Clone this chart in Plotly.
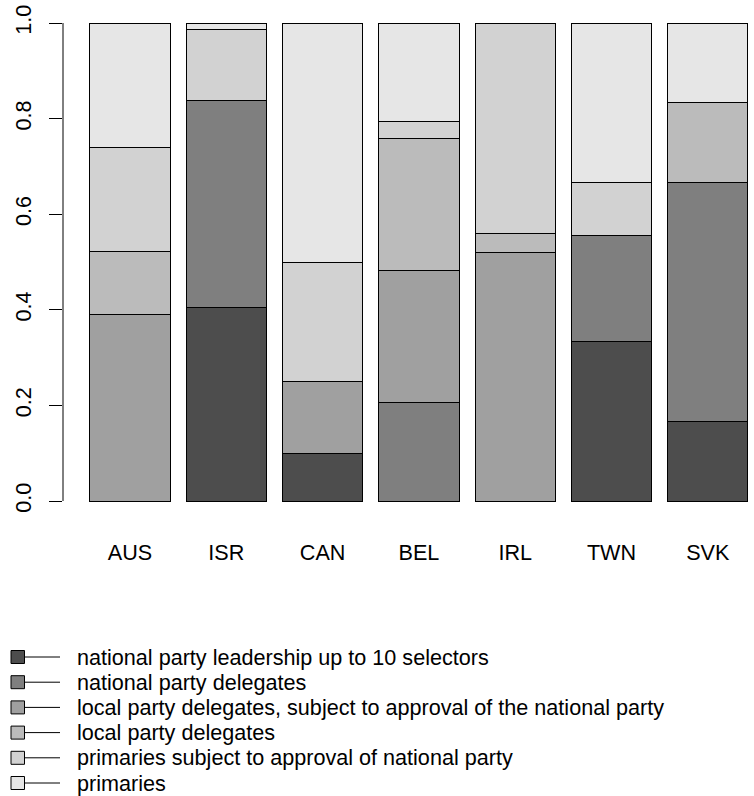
import plotly.graph_objects as go

countries = ["AUS", "ISR", "CAN", "BEL", "IRL", "TWN", "SVK"]
leadership = [None, 0.405, 0.10, None, None, 0.333, 0.167]
nat_delegates = [None, 0.432, None, 0.207, None, 0.222, 0.500]
local_approval = [0.391, None, 0.15, 0.276, 0.52, None, None]
local_delegates = [0.130, None, None, 0.276, 0.04, None, 0.167]
primaries_approval = [0.218, 0.150, 0.25, 0.034, 0.44, 0.111, None]
primaries = [0.261, 0.013, 0.50, 0.207, None, 0.334, 0.166]

series_names = [
    "national party leadership up to 10 selectors",
    "national party delegates",
    "local party delegates, subject to approval of the national party",
    "local party delegates",
    "primaries subject to approval of national party",
    "primaries",
]
series_values = [leadership, nat_delegates, local_approval, local_delegates,
                 primaries_approval, primaries]
colors = ["#4D4D4D", "#7F7F7F", "#A0A0A0", "#BBBBBB", "#D2D2D2", "#E6E6E6"]
y_ticks = [0.0, 0.2, 0.4, 0.6, 0.8, 1.0]
y_ticklabels = ["0.0", "0.2", "0.4", "0.6", "0.8", "1.0"]

FONT = "Liberation Sans, Arial, sans-serif"
FS = 21.6
W, H = 754, 796
L, R, T, B = 63, 0, 10, 276
PW, PH = W - L - R, H - T - B

def px(x):
    return (x - L) / PW

def py(y):
    return (H - B - y) / PH

fig = go.Figure()
for name, vals, col in zip(series_names, series_values, colors):
    fig.add_trace(go.Bar(
        x=countries, y=vals, name=name,
        marker=dict(color=col, line=dict(color="black", width=1)),
        showlegend=False, hoverinfo="skip",
    ))

# y axis line from 0 to 1
fig.add_shape(type="line", xref="paper", yref="y", x0=0, x1=0, y0=0, y1=1,
              line=dict(color="black", width=1))

# legend drawn manually
for i, (name, col) in enumerate(zip(series_names, colors)):
    yc = 657 + i * 25.2
    fig.add_shape(type="rect", xref="paper", yref="paper",
                  x0=px(11), x1=px(24.5), y0=py(yc - 6.5), y1=py(yc + 6.5),
                  fillcolor=col, line=dict(color="black", width=1))
    fig.add_shape(type="line", xref="paper", yref="paper",
                  x0=px(24.5), x1=px(60), y0=py(yc), y1=py(yc),
                  line=dict(color="black", width=1))
    fig.add_annotation(x=px(77), y=py(yc), xref="paper", yref="paper",
                       text=name, showarrow=False, xanchor="left", yanchor="middle",
                       xshift=-2,
                       font=dict(size=FS, color="black", family=FONT))

fig.update_layout(
    width=W, height=H,
    margin=dict(l=L, r=R, t=T, b=B),
    paper_bgcolor="white", plot_bgcolor="white",
    barmode="stack", bargap=1/6,
    font=dict(family=FONT, size=FS, color="black"),
    xaxis=dict(type="category", range=[-0.696, 6.48], showgrid=False,
               zeroline=False, showline=False, ticks="", automargin=False,
               tickfont=dict(size=FS), ticklabelstandoff=17, fixedrange=True),
    yaxis=dict(range=[-0.0397, 1.0272], showgrid=False, zeroline=False,
               showline=False, ticks="outside", ticklen=13, tickwidth=1,
               tickcolor="black", tickvals=y_ticks, ticktext=y_ticklabels,
               tickangle=-90, tickfont=dict(size=FS), ticklabelstandoff=9,
               ticklabeloverflow="allow", automargin=False, fixedrange=True),
)

fig.write_html(
    "out.html",
    config={"displayModeBar": False},
    post_script="document.body.style.margin='0';document.body.style.padding='0';",
)
